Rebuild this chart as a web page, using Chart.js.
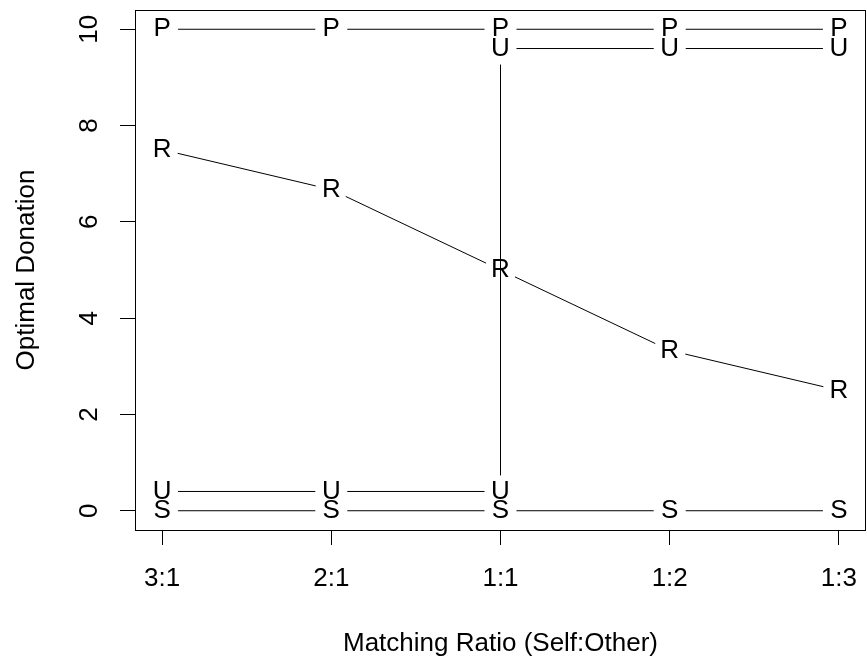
<!DOCTYPE html>
<html>
<head>
<meta charset="utf-8">
<script src="https://cdn.jsdelivr.net/npm/chart.js@4"></script>
<style>
  html, body { margin: 0; padding: 0; background: #fff; }
  #wrap { width: 867px; height: 662px; }
</style>
</head>
<body>
<div id="wrap"><canvas id="myChart" width="867" height="662"></canvas></div>
<script>
// matching ratios on the x axis
const ratioLabels = ["3:1", "2:1", "1:1", "1:2", "1:3"];
const ratioPos = [1, 2, 3, 4, 5];
const yTicks = [0, 2, 4, 6, 8, 10];

// optimal donation for each type
const pValues = [10, 10, 10, 10, 10];
const rValues = [7.5, 6.67, 5, 3.33, 2.5];
const sValues = [0, 0, 0, 0, 0];
// U jumps at 1:1
const uPos = [1, 2, 3, 3, 4, 5];
const uValues = [0.4, 0.4, 0.4, 9.6, 9.6, 9.6];

const fontFamily = "'Liberation Sans', Arial, Helvetica, sans-serif";
const fontSize = 26;
const gap = 16;

const toPoints = (xs, ys) => ys.map((y, i) => ({ x: xs[i], y: y }));

// letters as points, lines with a gap around each letter (like type = "b")
const letterPlugin = {
  id: "letters",
  afterDatasetsDraw(chart) {
    const ctx = chart.ctx;
    ctx.save();
    chart.data.datasets.forEach((ds, i) => {
      const pts = chart.getDatasetMeta(i).data;
      ctx.strokeStyle = "#000";
      ctx.lineWidth = 1;
      for (let k = 0; k < pts.length - 1; k++) {
        const a = pts[k], b = pts[k + 1];
        const dx = b.x - a.x, dy = b.y - a.y;
        const len = Math.hypot(dx, dy);
        if (len <= 2 * gap) continue;
        const ux = dx / len, uy = dy / len;
        ctx.beginPath();
        ctx.moveTo(a.x + ux * gap, a.y + uy * gap);
        ctx.lineTo(b.x - ux * gap, b.y - uy * gap);
        ctx.stroke();
      }
      ctx.fillStyle = "#000";
      ctx.font = fontSize + "px " + fontFamily;
      ctx.textAlign = "center";
      ctx.textBaseline = "middle";
      pts.forEach((p) => ctx.fillText(ds.label, p.x, p.y));
    });
    ctx.restore();
  },
  afterDraw(chart) {
    const ctx = chart.ctx;
    const area = chart.chartArea;
    ctx.save();
    // box
    ctx.strokeStyle = "#000";
    ctx.lineWidth = 1;
    ctx.strokeRect(Math.round(area.left) + 0.5, Math.round(area.top) + 0.5,
      Math.round(area.right - area.left) - 1, Math.round(area.bottom - area.top));
    // rotated y tick labels
    const ys = chart.scales.y;
    ctx.fillStyle = "#000";
    ctx.font = fontSize + "px " + fontFamily;
    ctx.textAlign = "center";
    ctx.textBaseline = "middle";
    yTicks.forEach((v) => {
      const py = ys.getPixelForValue(v);
      ctx.save();
      ctx.translate(90, py);
      ctx.rotate(-Math.PI / 2);
      ctx.fillText(String(v), 0, 0);
      ctx.restore();
    });
    ctx.restore();
  }
};

const config = {
  type: "scatter",
  data: {
    datasets: [
      { label: "P", data: toPoints(ratioPos, pValues) },
      { label: "U", data: toPoints(uPos, uValues) },
      { label: "R", data: toPoints(ratioPos, rValues) },
      { label: "S", data: toPoints(ratioPos, sValues) }
    ].map((d) => Object.assign(d, { showLine: false, pointRadius: 0, pointHoverRadius: 0 }))
  },
  options: {
    responsive: false,
    animation: false,
    layout: { padding: { top: 10, right: 1, left: 0, bottom: 0 } },
    plugins: { legend: { display: false }, tooltip: { enabled: false } },
    scales: {
      x: {
        type: "linear",
        min: 0.84,
        max: 5.16,
        afterBuildTicks: (s) => { s.ticks = ratioPos.map((v) => ({ value: v })); },
        afterFit: (s) => { s.height = 132; s.paddingLeft = 0; s.paddingRight = 0; },
        grid: { drawOnChartArea: false, drawTicks: true, tickLength: 15, color: "#000" },
        border: { display: false },
        ticks: {
          color: "#000",
          padding: 18,
          font: { family: fontFamily, size: fontSize },
          callback: (v) => ratioLabels[ratioPos.indexOf(v)]
        },
        title: {
          display: true,
          text: "Matching Ratio (Self:Other)",
          color: "#000",
          font: { family: fontFamily, size: fontSize },
          padding: { top: 0, bottom: 3 }
        }
      },
      y: {
        type: "linear",
        min: -0.4,
        max: 10.4,
        afterBuildTicks: (s) => { s.ticks = yTicks.map((v) => ({ value: v })); },
        afterFit: (s) => { s.width = 135; s.paddingTop = 0; s.paddingBottom = 0; },
        grid: { drawOnChartArea: false, drawTicks: true, tickLength: 15, color: "#000" },
        border: { display: false },
        ticks: { display: false },
        title: {
          display: true,
          text: "Optimal Donation",
          color: "#000",
          font: { family: fontFamily, size: fontSize },
          padding: { top: 11, bottom: 11 }
        }
      }
    }
  },
  plugins: [letterPlugin]
};

new Chart(document.getElementById("myChart"), config);
</script>
</body>
</html>
